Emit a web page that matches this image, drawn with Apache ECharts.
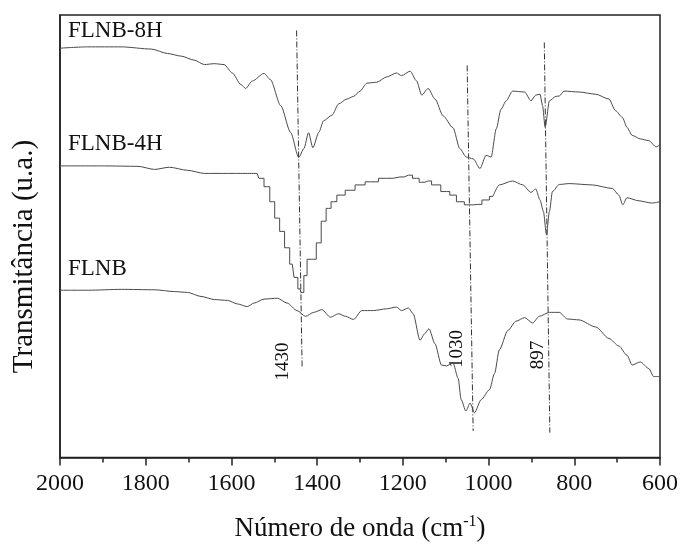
<!DOCTYPE html>
<html><head><meta charset="utf-8">
<script src="https://cdn.jsdelivr.net/npm/echarts@6/dist/echarts.min.js"></script>
<style>html,body{margin:0;padding:0;background:#fff}#c{width:681px;height:547px}</style>
</head><body><div id="c"></div>
<script>
// x tick labels (wavenumber, cm-1)
const xTickLabels = [2000, 1800, 1600, 1400, 1200, 1000, 800, 600];
const seriesNames = ['FLNB-8H', 'FLNB-4H', 'FLNB'];
const peakNames = ['1430', '1030', '897'];

// FLNB-8H [wavenumber, transmittance (a.u.)]
const flnb8h = [[2000,92.5],[1935,92.8],[1857,92.8],[1787,92.3],[1749,91.3],[1717,90.7],[1687,89.8],[1663,88.8],[1640,89.0],[1617,88.8],[1598,86.9],[1578,84.3],[1567,83.4],[1551,85.1],[1524,86.8],[1509,85.4],[1485,79.5],[1462,73.5],[1443,67.8],[1431,69.8],[1420,73.4],[1410,70.0],[1396,73.5],[1385,76.1],[1365,77.4],[1350,79.9],[1331,81.0],[1315,81.6],[1300,82.8],[1284,84.6],[1261,84.8],[1238,86.0],[1215,86.9],[1203,86.3],[1183,87.3],[1168,85.1],[1156,81.9],[1141,83.4],[1125,81.0],[1106,77.2],[1083,74.5],[1067,69.8],[1052,67.9],[1036,67.5],[1020,65.3],[1006,68.3],[994,67.9],[982,74.3],[971,78.7],[959,80.6],[944,82.8],[916,82.6],[901,80.6],[890,81.9],[880,82.1],[874,79.5],[868,74.6],[858,80.6],[843,81.6],[835,81.7],[824,82.8],[789,82.6],[750,82.1],[719,81.0],[704,78.4],[688,76.9],[677,74.6],[665,72.8],[646,72.0],[626,71.6],[609,70.2],[600,70.7]];

// FLNB-4H: smooth part (high wavenumber), stepped part, smooth part (low wavenumber)
const flnb4hHigh = [[2000,65.9],[1896,65.9],[1818,65.8],[1779,65.1],[1745,65.6],[1702,64.9],[1663,64.2],[1609,64.2],[1540,64.2]];
const flnb4hStep = [[1540,64.2],[1532,63.1],[1516,61.2],[1505,57.8],[1493,54.1],[1482,51.1],[1470,47.4],[1458,43.7],[1450,40.7],[1440,38.1],[1435,37.3],[1427,41.1],[1420,44.8],[1408,44.8],[1396,48.5],[1385,53.4],[1373,56.3],[1362,57.8],[1346,59.3],[1323,60.4],[1300,61.6],[1276,62.3],[1238,63.1],[1207,63.4],[1187,63.8],[1168,63.1],[1156,62.2],[1141,62.5],[1125,61.6],[1098,60.1],[1083,59.3],[1067,57.8],[1046,57.1],[1025,57.2],[1006,58.2],[990,59.0]];
const flnb4hLow = [[990,59.0],[975,61.6],[944,62.5],[920,61.6],[901,59.9],[890,60.7],[880,58.2],[872,55.6],[865,50.4],[858,55.6],[851,60.1],[835,61.7],[812,61.9],[758,61.6],[711,60.8],[696,59.3],[687,57.1],[677,58.7],[649,58.0],[619,57.5],[600,57.8]];

// FLNB
const flnb = [[2000,37.8],[1934,37.8],[1857,38.0],[1779,37.9],[1733,37.5],[1702,37.3],[1671,36.4],[1640,35.7],[1609,35.5],[1586,34.7],[1563,34.1],[1547,34.9],[1524,35.8],[1493,36.0],[1470,34.9],[1447,33.2],[1427,31.9],[1408,32.8],[1389,33.4],[1369,31.7],[1350,32.5],[1334,31.9],[1315,31.2],[1296,33.2],[1269,33.2],[1238,33.6],[1215,34.0],[1203,33.2],[1187,33.8],[1176,32.5],[1160,26.5],[1149,28.0],[1139,29.1],[1125,25.7],[1110,20.9],[1098,20.7],[1083,21.4],[1071,17.9],[1064,13.1],[1053,10.5],[1043,12.3],[1033,10.1],[1017,13.1],[998,15.3],[986,19.0],[975,24.3],[955,28.7],[936,30.8],[916,31.6],[897,30.4],[882,31.9],[858,32.8],[835,32.8],[816,31.3],[789,31.1],[750,29.5],[719,26.9],[696,25.2],[677,23.1],[665,20.9],[646,21.6],[626,20.1],[615,18.3],[600,18.3]];

// dash-dot peak guide lines [wavenumber, transmittance]
const peakLine1430 = [[1448,96.5],[1435,20.1]];
const peakLine1030 = [[1050,88.6],[1036,6.0]];
const peakLine897 = [[870,93.8],[857,5.6]];

const serif = '"Liberation Serif","Times New Roman",serif';
const curveStyle = {color:'#4a4a4a', width:1};
const guideStyle = {color:'#333', width:1, type:[6,2,1,2]};

function curve(data, step) {
  return {type:'line', data:data, showSymbol:false, symbol:'none', step:step || false,
    smooth: step ? false : 0.25, smoothMonotone:'x',
    lineStyle:curveStyle, silent:true, animation:false, z:3};
}
function guide(data) {
  return {type:'line', data:data, showSymbol:false, symbol:'none',
    lineStyle:guideStyle, silent:true, animation:false, z:2};
}

const chart = echarts.init(document.getElementById('c'), null, {renderer:'canvas'});
chart.setOption({
  backgroundColor:'#fff',
  animation:false,
  grid:{left:60, right:18, top:15, height:447, show:true, borderColor:'#222', borderWidth:1.5, backgroundColor:'transparent'},
  xAxis:{
    type:'value', min:600, max:2000, interval:200, inverse:true,
    axisLine:{show:true, onZero:false, lineStyle:{color:'#222', width:1.5}},
    axisTick:{show:true, inside:false, length:8, lineStyle:{color:'#222', width:1.5}},
    minorTick:{show:true, splitNumber:2, length:5, lineStyle:{color:'#222', width:1.5}},
    splitLine:{show:false},
    axisLabel:{fontFamily:serif, fontSize:24, color:'#111', margin:14,
      formatter:function(v){ return xTickLabels.indexOf(v) >= 0 ? String(v) : ''; }},
    name:'Número de onda (cm{sup|-1})',
    nameLocation:'middle', nameGap:56,
    nameTextStyle:{fontFamily:serif, fontSize:27, color:'#111',
      rich:{sup:{fontFamily:serif, fontSize:16, color:'#111', verticalAlign:'top', padding:[0,0,14,0]}}}
  },
  yAxis:{
    type:'value', min:0, max:100,
    axisLine:{show:true, lineStyle:{color:'#222', width:1.5}},
    axisTick:{show:false}, axisLabel:{show:false}, splitLine:{show:false}
  },
  series:[
    curve(flnb8h), curve(flnb4hHigh), curve(flnb4hStep, 'middle'), curve(flnb4hLow), curve(flnb),
    guide(peakLine1430), guide(peakLine1030), guide(peakLine897)
  ],
  graphic:[
    {type:'text', x:24.5, y:256.5, rotation:Math.PI/2,
      style:{text:'Transmitância (u.a.)', font:'29px ' + serif, fill:'#111', textAlign:'center', textVerticalAlign:'middle'}},
    {type:'text', x:68, y:31, style:{text:seriesNames[0], font:'23px ' + serif, fill:'#111', textAlign:'left', textVerticalAlign:'middle'}},
    {type:'text', x:68, y:144.4, style:{text:seriesNames[1], font:'23px ' + serif, fill:'#111', textAlign:'left', textVerticalAlign:'middle'}},
    {type:'text', x:68, y:269.3, style:{text:seriesNames[2], font:'23px ' + serif, fill:'#111', textAlign:'left', textVerticalAlign:'middle'}},
    {type:'text', x:283.5, y:361.5, rotation:Math.PI/2, style:{text:peakNames[0], font:'19px ' + serif, fill:'#111', textAlign:'center', textVerticalAlign:'middle'}},
    {type:'text', x:456.7, y:349, rotation:Math.PI/2, style:{text:peakNames[1], font:'19px ' + serif, fill:'#111', textAlign:'center', textVerticalAlign:'middle'}},
    {type:'text', x:538.4, y:355, rotation:Math.PI/2, style:{text:peakNames[2], font:'19px ' + serif, fill:'#111', textAlign:'center', textVerticalAlign:'middle'}}
  ]
});
</script>
</body></html>
